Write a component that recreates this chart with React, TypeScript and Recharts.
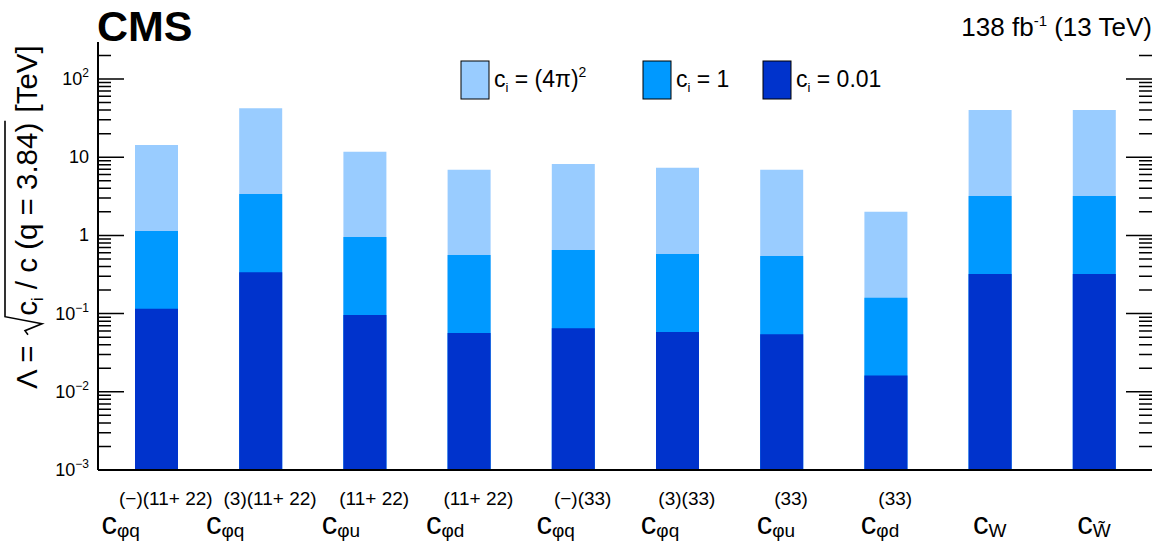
import React from 'react';
import { BarChart, Bar, XAxis, YAxis, ReferenceLine } from 'recharts';

const FONT = '"Liberation Sans", Arial, Helvetica, sans-serif';
const PRE = { whiteSpace: 'pre' as const };

// operators (categories) and their label pieces
const operators = ['cpq-1122', 'cpq3-1122', 'cpu-1122', 'cpd-1122', 'cpq-33', 'cpq3-33', 'cpu-33', 'cpd-33', 'cW', 'cWt'];
const labelSub = ['φq', 'φq', 'φu', 'φd', 'φq', 'φq', 'φu', 'φd', 'W', 'W\u0303'];
const labelSup = ['(−)(11+ 22)', '(3)(11+ 22)', '(11+ 22)', '(11+ 22)', '(−)(33)', '(3)(33)', '(33)', '(33)', '', ''];

// Lambda [TeV] for c_i = (4pi)^2, 1, 0.01
const lambdaStrong = [14.3, 42.2, 11.7, 6.9, 8.2, 7.3, 6.9, 2.0, 40.2, 40.2];
const lambdaOne = [1.14, 3.38, 0.955, 0.561, 0.65, 0.578, 0.545, 0.16, 3.19, 3.19];
const lambdaWeak = [0.115, 0.337, 0.096, 0.0565, 0.065, 0.058, 0.0545, 0.0161, 0.321, 0.321];

const seriesKeys = ['strong', 'one', 'weak'];
const seriesColors = ['#99ccff', '#0099ff', '#0033cc'];
const legendRest = [' = (4π)', ' = 1', ' = 0.01'];
const legendSup = ['2', '', ''];

// y axis ticks
const majorTicks = [0.001, 0.01, 0.1, 1, 10, 100];
const tickBase = ['10', '10', '10', '1', '10', '10'];
const tickExp = ['−3', '−2', '−1', '', '', '2'];
const yMax = 297;

const allTicks: number[] = [];
majorTicks.forEach((m) => {
  for (let k = 1; k <= 9; k++) {
    const v = m * k;
    if (v <= yMax) allTicks.push(v);
  }
});
const isMajor = (v: number) => majorTicks.findIndex((m) => Math.abs(m - v) / m < 1e-6);

const data = operators.map((op, i) => ({
  op,
  strong: lambdaStrong[i],
  one: lambdaOne[i],
  weak: lambdaWeak[i],
}));

let ctx: CanvasRenderingContext2D | null = null;
const measure = (txt: string, size: number) => {
  if (!ctx && typeof document !== 'undefined') {
    ctx = document.createElement('canvas').getContext('2d');
  }
  if (!ctx) return txt.length * size * 0.55;
  ctx.font = `${size}px "Liberation Sans"`;
  return ctx.measureText(txt).width;
};

const YTick = (props: any) => {
  const { x, y, payload } = props;
  const mi = isMajor(payload.value);
  if (mi < 0) return <g />;
  return (
    <text x={x - 9} y={y + 6} textAnchor="end" fontFamily={FONT} fontSize={18} fill="#000" stroke="none">
      {tickBase[mi]}
      {tickExp[mi] && (
        <tspan fontSize={12} dy={-8}>
          {tickExp[mi]}
        </tspan>
      )}
    </text>
  );
};

// short inward tick marks on both vertical frame lines
const TickMarks = (props: any) => {
  const { x1, x2, y1, len } = props;
  const l = Math.min(x1, x2);
  const r = Math.max(x1, x2);
  return (
    <path
      d={`M ${r - len} ${y1} L ${r} ${y1} M ${l} ${y1} L ${l + len} ${y1}`}
      stroke="#000"
      strokeWidth={1.5}
      fill="none"
    />
  );
};

const XTick = (props: any) => {
  const { x, payload } = props;
  const i = operators.indexOf(payload.value);
  if (i < 0) return <g />;
  const wc = measure('c', 31);
  const total = wc + Math.max(measure(labelSub[i], 19), measure(labelSup[i], 19));
  const x0 = x - total / 2;
  return (
    <g fontFamily={FONT} fill="#000">
      <text x={x0} y={534} fontSize={31} stroke="none">c</text>
      <text x={x0 + wc} y={537} fontSize={19} stroke="none">{labelSub[i]}</text>
      {labelSup[i] && (
        <text x={x0 + wc + 2} y={505} fontSize={19} stroke="none" style={PRE}>{labelSup[i]}</text>
      )}
    </g>
  );
};

// legend in its own small svg (x 450..900, y 55..105)
const LegendBox = () => {
  const boxX = [11, 193, 313];
  return (
    <svg
      width={450}
      height={50}
      style={{ position: 'absolute', left: 450, top: 55, fontFamily: FONT }}
    >
      {seriesKeys.map((k, i) => {
        const tx = boxX[i] + 33;
        const wc = measure('c', 23);
        const wi = measure('i', 13);
        return (
          <g key={k}>
            <rect x={boxX[i]} y={6} width={28} height={38} fill={seriesColors[i]} stroke="#000" strokeWidth={1} />
            <text x={tx} y={32} fontSize={23}>c</text>
            <text x={tx + wc} y={37} fontSize={13}>i</text>
            <text x={tx + wc + wi} y={32} fontSize={23} style={PRE}>
              {legendRest[i]}
              {legendSup[i] && (
                <tspan fontSize={14} dy={-10}>
                  {legendSup[i]}
                </tspan>
              )}
            </text>
          </g>
        );
      })}
    </svg>
  );
};

const YTitle = () => {
  const fs = 29.5;
  const w1 = measure('Λ = ', fs);
  const radX = w1 + 1;
  const cX = radX + 19;
  const wc = measure('c', fs);
  const wi = measure('i', 16);
  const restX = cX + wc + wi;
  const rest = ' / c (q = 3.84)';
  const endRad = restX + measure(rest, fs) + 2;
  return (
    <svg width={48} height={400} style={{ position: 'absolute', left: 0, top: 0 }}>
      <g transform="translate(37, 389) rotate(-90)" fontFamily={FONT} fill="#000">
        <text x={0} y={0} fontSize={fs} style={PRE}>Λ = </text>
        <path
          d={`M ${radX} -9 L ${radX + 4} -12 L ${radX + 11} 5 L ${radX + 18} -32 L ${endRad} -32`}
          fill="none"
          stroke="#000"
          strokeWidth={1.6}
        />
        <text x={cX} y={0} fontSize={fs}>c</text>
        <text x={cX + wc} y={6} fontSize={16}>i</text>
        <text x={restX} y={0} fontSize={fs} style={PRE}>{rest}</text>
        <text x={endRad} y={0} fontSize={fs} style={PRE}> [TeV]</text>
      </g>
    </svg>
  );
};

export default function App() {
  const padding = { left: 6, right: 6 };
  return (
    <div style={{ position: 'absolute', left: 0, top: 0, width: 1168, height: 548, background: '#fff' }}>
      <BarChart
        width={1168}
        height={548}
        data={data}
        margin={{ top: 42, right: 16, bottom: 0, left: 0 }}
      >
        <XAxis
          xAxisId="a"
          dataKey="op"
          height={78}
          padding={padding}
          axisLine={{ stroke: '#000', strokeWidth: 2 }}
          tickLine={false}
          tickSize={0}
          tickMargin={0}
          interval={0}
          tick={<XTick />}
        />
        <XAxis xAxisId="b" dataKey="op" hide padding={padding} />
        <XAxis xAxisId="c" dataKey="op" hide padding={padding} />
        <XAxis
          xAxisId="top"
          orientation="top"
          dataKey="op"
          height={0}
          padding={padding}
          axisLine={{ stroke: '#000', strokeWidth: 2 }}
          tickLine={false}
          tick={false}
        />
        <YAxis
          yAxisId="l"
          scale="log"
          domain={[0.001, yMax]}
          ticks={allTicks}
          interval={0}
          width={98}
          axisLine={{ stroke: '#000', strokeWidth: 2 }}
          tickLine={false}
          tickSize={0}
          tickMargin={0}
          tick={<YTick />}
        />
        <YAxis
          yAxisId="r"
          orientation="right"
          scale="log"
          domain={[0.001, yMax]}
          width={0}
          axisLine={{ stroke: '#000', strokeWidth: 2 }}
          tickLine={false}
          tick={false}
        />
        <Bar dataKey="strong" xAxisId="a" yAxisId="l" fill={seriesColors[0]} barSize={43} isAnimationActive={false} />
        <Bar dataKey="one" xAxisId="b" yAxisId="l" fill={seriesColors[1]} barSize={43} isAnimationActive={false} />
        <Bar dataKey="weak" xAxisId="c" yAxisId="l" fill={seriesColors[2]} barSize={43} isAnimationActive={false} />
        {allTicks.map((v) => (
          <ReferenceLine
            key={v}
            y={v}
            xAxisId="a"
            yAxisId="l"
            stroke="#000"
            ifOverflow="visible"
            shape={(p: any) => <TickMarks {...p} len={isMajor(v) >= 0 ? 26 : 13} />}
          />
        ))}
      </BarChart>
      <LegendBox />
      <YTitle />
      <svg width={1168} height={60} style={{ position: 'absolute', left: 0, top: 0 }}>
        <text x={97} y={41} fontFamily={FONT} fontWeight="bold" fontSize={43} fill="#000">CMS</text>
        <text x={1152} y={36} textAnchor="end" fontFamily={FONT} fontSize={26} fill="#000">
          138 fb
          <tspan fontSize={15} dy={-10}>-1</tspan>
          <tspan dy={10}> (13 TeV)</tspan>
        </text>
      </svg>
    </div>
  );
}
